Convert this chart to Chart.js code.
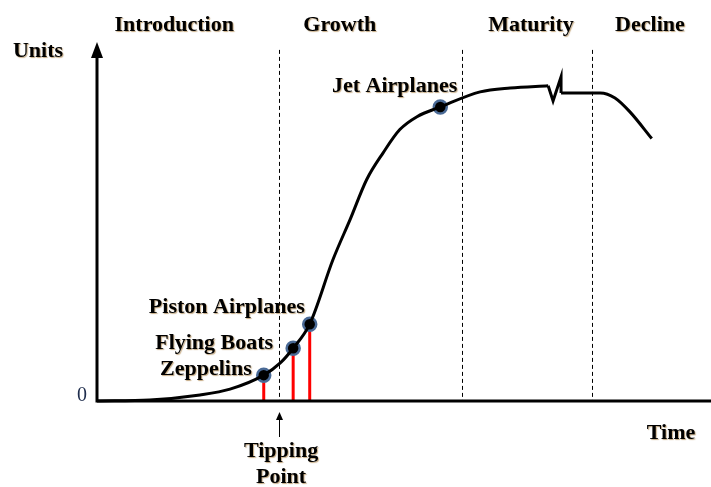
<!DOCTYPE html>
<html><head><meta charset="utf-8">
<script src="https://cdn.jsdelivr.net/npm/chart.js@4"></script>
<style>html,body{margin:0;padding:0;background:#fff}</style>
</head><body>
<canvas id="c" width="711" height="487"></canvas>
<script>
// Growth curve (time in % of axis, units in % of axis)
const curveTime  = [0, 8.6, 16.8, 21.7, 27.2, 29.9, 32.0, 34.7, 38.5, 41.3, 44.0, 46.7, 49.4, 52.2, 56.0, 62.5, 67.4, 73.6];
const curveUnits = [0, 0.3, 1.7, 3.3, 7.2, 10.6, 14.7, 21.4, 39.4, 50.6, 61.7, 69.2, 75.6, 79.2, 81.9, 86.1, 87.2, 87.8];
// Axis-break zigzag
const breakTime  = [73.6, 74.4, 75.7, 75.7];
const breakUnits = [87.8, 83.6, 90.3, 85.8];
// Decline
const declineTime  = [75.7, 82.1, 84.5, 86.9, 90.5];
const declineUnits = [85.8, 85.8, 84.4, 80.6, 73.1];
// Milestones
const milestoneNames = ['Zeppelins', 'Flying Boats', 'Piston Airplanes', 'Jet Airplanes'];
const milestoneTime  = [27.2, 32.0, 34.7, 56.0];
const milestoneUnits = [7.2, 14.7, 21.4, 81.9];
const stemmedMilestones = ['Zeppelins', 'Flying Boats', 'Piston Airplanes'];
// Phases
const phaseNames = ['Introduction', 'Growth', 'Maturity', 'Decline'];
const phaseLabelTime = [12.6, 39.6, 70.8, 90.2];
const phaseBoundaries = [29.7, 59.5, 80.8];
const tippingPointTime = 29.7;
const tippingLabel = ['Tipping', 'Point'];
const axisTitles = { x: 'Time', y: 'Units' };
const zeroTick = '0';

const toXY = (xs, ys) => xs.map((x, i) => ({ x, y: ys[i] }));

// label placement (pixel offsets, style only)
const labelOffsets = {
  'Zeppelins': [-12, 0],
  'Flying Boats': [-20, 1],
  'Piston Airplanes': [-5, -11],
  'Jet Airplanes': [17, -15]
};

const BOLD = 'bold 22px "Liberation Serif", "Times New Roman", serif';

function shadowText(ctx, text, x, y, align) {
  ctx.save();
  ctx.font = BOLD;
  ctx.textAlign = align || 'center';
  ctx.textBaseline = 'alphabetic';
  ctx.shadowColor = 'rgba(150,100,30,0.55)';
  ctx.shadowOffsetX = 1;
  ctx.shadowOffsetY = 1;
  ctx.shadowBlur = 1;
  ctx.fillStyle = '#000';
  ctx.fillText(text, x, y);
  ctx.restore();
}

const decor = {
  id: 'decor',
  beforeDatasetsDraw(chart) {
    const ctx = chart.ctx, xs = chart.scales.x, ys = chart.scales.y, a = chart.chartArea;
    const y0 = ys.getPixelForValue(0);
    // dashed phase boundaries
    ctx.save();
    ctx.strokeStyle = '#000';
    ctx.lineWidth = 1;
    ctx.setLineDash([4, 3]);
    phaseBoundaries.forEach(t => {
      const px = Math.round(xs.getPixelForValue(t)) + 0.5;
      ctx.beginPath();
      ctx.moveTo(px, ys.getPixelForValue(97.8));
      ctx.lineTo(px, y0);
      ctx.stroke();
    });
    ctx.restore();
    // red stems
    ctx.save();
    ctx.strokeStyle = '#ff0000';
    ctx.lineWidth = 3;
    milestoneNames.forEach((n, i) => {
      if (!stemmedMilestones.includes(n)) return;
      const px = xs.getPixelForValue(milestoneTime[i]);
      ctx.beginPath();
      ctx.moveTo(px, ys.getPixelForValue(milestoneUnits[i]));
      ctx.lineTo(px, y0);
      ctx.stroke();
    });
    ctx.restore();
    // axes
    ctx.save();
    ctx.strokeStyle = '#000';
    ctx.fillStyle = '#000';
    ctx.lineWidth = 3;
    const x0 = xs.getPixelForValue(0);
    ctx.beginPath();
    ctx.moveTo(x0, y0);
    ctx.lineTo(x0, a.top + 14);
    ctx.moveTo(x0 - 1.5, y0);
    ctx.lineTo(a.right + 1, y0);
    ctx.stroke();
    ctx.beginPath();
    ctx.moveTo(x0, a.top);
    ctx.lineTo(x0 - 6, a.top + 16);
    ctx.lineTo(x0 + 6, a.top + 16);
    ctx.closePath();
    ctx.fill();
    ctx.restore();
  },
  afterDatasetsDraw(chart) {
    const ctx = chart.ctx, xs = chart.scales.x, ys = chart.scales.y, a = chart.chartArea;
    phaseNames.forEach((n, i) => shadowText(ctx, n, xs.getPixelForValue(phaseLabelTime[i]), 31, 'center'));
    milestoneNames.forEach((n, i) => {
      const o = labelOffsets[n];
      shadowText(ctx, n, xs.getPixelForValue(milestoneTime[i]) + o[0], ys.getPixelForValue(milestoneUnits[i]) + o[1], 'right');
    });
    shadowText(ctx, axisTitles.y, 38, 57, 'center');
    shadowText(ctx, axisTitles.x, 671, 439, 'center');
    const tpx = xs.getPixelForValue(tippingPointTime);
    shadowText(ctx, tippingLabel[0], tpx + 2, 457, 'center');
    shadowText(ctx, tippingLabel[1], tpx + 2, 483, 'center');
    // tipping arrow
    ctx.save();
    ctx.strokeStyle = '#000';
    ctx.fillStyle = '#000';
    ctx.lineWidth = 1;
    const ax = Math.round(tpx) + 0.5;
    ctx.beginPath();
    ctx.moveTo(ax, 437);
    ctx.lineTo(ax, 418);
    ctx.stroke();
    ctx.beginPath();
    ctx.moveTo(ax, 412);
    ctx.lineTo(ax - 3.5, 420);
    ctx.lineTo(ax + 3.5, 420);
    ctx.closePath();
    ctx.fill();
    // zero tick
    ctx.font = '20px "Liberation Serif", "Times New Roman", serif';
    ctx.textAlign = 'right';
    ctx.textBaseline = 'alphabetic';
    ctx.fillStyle = '#1f2d4d';
    ctx.fillText(zeroTick, xs.getPixelForValue(0) - 10, ys.getPixelForValue(0));
    ctx.restore();
  }
};

new Chart(document.getElementById('c'), {
  type: 'line',
  data: {
    datasets: [
      { data: toXY(curveTime, curveUnits), borderColor: '#000', borderWidth: 3, pointRadius: 0, cubicInterpolationMode: 'monotone', fill: false, clip: false },
      { data: toXY(breakTime, breakUnits), borderColor: '#000', borderWidth: 3, pointRadius: 0, tension: 0, fill: false, clip: false },
      { data: toXY(declineTime, declineUnits), borderColor: '#000', borderWidth: 3, pointRadius: 0, cubicInterpolationMode: 'monotone', fill: false, clip: false },
      { type: 'scatter', data: toXY(milestoneTime, milestoneUnits), showLine: false, pointRadius: 6.5, pointBackgroundColor: '#000', pointBorderColor: '#4a6a96', pointBorderWidth: 2.5, clip: false }
    ]
  },
  options: {
    responsive: false,
    animation: false,
    events: [],
    layout: { autoPadding: false, padding: { left: 97, right: 1, top: 42, bottom: 86 } },
    plugins: { legend: { display: false }, tooltip: { enabled: false } },
    scales: {
      x: { type: 'linear', min: 0, max: 100, display: false },
      y: { type: 'linear', min: 0, max: 100, display: false }
    }
  },
  plugins: [decor]
});
</script>
</body></html>
